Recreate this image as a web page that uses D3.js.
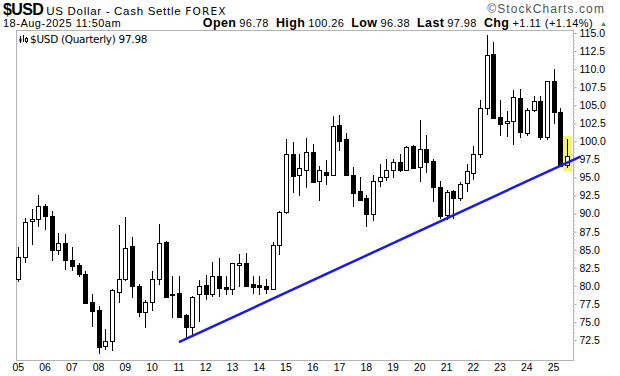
<!DOCTYPE html>
<html>
<head>
<meta charset="utf-8">
<script src="https://cdn.jsdelivr.net/npm/d3@7"></script>
<style>
    body { margin: 0; background: #fff; }
    svg { display: block; font-family: "Liberation Sans", Arial, sans-serif; }
</style>
</head>
<body>
<div id="chart"></div>
<script>
// Quarterly $USD candles, 2005 Q1 .. 2025 Q3
const yearLabels = ['05','06','07','08','09','10','11','12','13','14','15','16','17','18','19','20','21','22','23','24','25'];

const opens = [
    81.0, 84.0, 89.0, 89.3, 91.1, 89.7, 85.0, 85.9, 83.6, 82.9, 81.7, 77.7, 76.6, 71.7, 72.3, 79.1,
    81.0, 85.5, 80.0, 76.4, 77.8, 80.9, 86.0, 78.7, 79.0, 75.9, 74.3, 78.9, 80.1, 78.8, 81.4, 79.9,
    79.5, 82.9, 83.1, 80.2, 80.1, 80.0, 79.6, 85.7, 90.2, 98.2, 95.4, 96.1, 98.5, 94.5, 95.8, 95.4,
    102.3, 100.3, 95.4, 93.1, 92.2, 89.9, 94.5, 95.0, 96.0, 97.1, 96.1, 99.3, 96.4, 98.9, 97.3, 93.7,
    89.8, 93.1, 92.2, 94.2, 95.6, 98.2, 104.6, 112.1, 103.4, 102.5, 102.8, 106.0, 101.2, 104.3, 105.6, 100.6,
    108.3, 104.1, 96.78
];
const highs = [
    85.4, 89.4, 90.6, 92.6, 91.3, 90.3, 87.3, 87.2, 85.4, 83.2, 82.0, 78.9, 77.2, 74.0, 79.5, 88.4,
    89.5, 86.7, 80.2, 78.1, 82.0, 88.5, 86.2, 81.3, 81.3, 76.1, 78.6, 80.8, 81.5, 83.3, 83.9, 81.3,
    83.2, 84.4, 84.6, 81.3, 81.3, 80.9, 86.0, 90.3, 100.3, 99.9, 98.2, 100.4, 99.7, 96.6, 97.4, 103.5,
    103.6, 101.2, 96.4, 95.0, 92.6, 95.4, 96.9, 97.5, 97.5, 98.2, 99.3, 99.5, 102.9, 100.9, 97.5, 94.5,
    93.3, 93.3, 94.4, 96.8, 99.3, 105.7, 114.7, 113.7, 105.7, 104.2, 107.1, 107.2, 104.6, 106.3, 106.3, 108.4,
    110.0, 104.6, 100.26
];
const lows = [
    80.5, 83.1, 85.6, 88.1, 87.7, 83.5, 84.2, 82.2, 82.1, 81.2, 77.5, 74.3, 70.6, 71.1, 71.0, 77.6,
    80.7, 78.3, 75.7, 74.1, 76.5, 80.1, 78.4, 75.6, 75.5, 72.7, 73.0, 75.0, 78.0, 78.5, 78.5, 78.7,
    78.7, 79.9, 79.9, 78.8, 78.7, 78.8, 79.4, 84.3, 89.9, 92.9, 92.5, 93.6, 94.3, 91.8, 93.9, 95.2,
    98.7, 95.4, 90.9, 91.7, 88.1, 89.0, 93.7, 94.5, 94.9, 95.7, 96.0, 96.3, 94.4, 95.6, 91.6, 89.3,
    89.1, 89.3, 91.8, 93.0, 94.6, 97.7, 103.7, 103.3, 100.7, 100.6, 99.5, 100.4, 100.7, 104.0, 100.2, 100.2,
    102.4, 96.4, 96.38
];
const closes = [
    84.0, 88.8, 89.3, 91.1, 89.6, 85.0, 85.9, 83.6, 82.8, 81.7, 77.6, 76.5, 71.6, 72.3, 79.4, 81.0,
    85.3, 80.0, 76.4, 77.7, 80.9, 85.9, 78.5, 78.9, 75.7, 74.3, 78.5, 80.0, 78.8, 81.4, 79.7, 79.6,
    83.1, 83.2, 80.0, 79.9, 79.9, 79.6, 85.7, 90.2, 98.2, 95.2, 96.3, 98.5, 94.4, 96.0, 95.3, 102.1,
    100.1, 95.4, 92.9, 91.9, 89.9, 94.5, 95.0, 96.0, 97.1, 96.0, 99.2, 96.3, 98.9, 97.2, 93.7, 89.7,
    93.0, 92.2, 94.1, 95.9, 98.2, 104.6, 112.0, 103.3, 102.4, 102.8, 106.1, 101.3, 104.4, 105.6, 100.6, 108.3,
    104.0, 96.6, 97.98
];

const priceTicks = [72.5, 75, 77.5, 80, 82.5, 85, 87.5, 90, 92.5, 95, 97.5, 100, 102.5, 105, 107.5, 110, 112.5, 115];

// Hand-drawn support line (quarter index, price)
const trendIdx = [24, 84];
const trendVal = [72.2, 97.9];

const W = 620, H = 376;
const plot = { left: 16, top: 30, right: 573, bottom: 360 };

const svg = d3.select('#chart')
    .append('svg')
    .attr('width', W)
    .attr('height', H);

// Scales
const x = d3.scaleLinear()
    .domain([0, opens.length - 1])
    .range([18.3, 567]);

const y = d3.scaleLinear()
    .domain([72.5, 115])
    .range([340, 33]);

// Header
const head = svg.append('text')
    .attr('x', 3)
    .attr('y', 15);
head.append('tspan')
    .style('font-weight', 'bold')
    .style('font-size', '16px')
    .style('letter-spacing', '-0.6px')
    .text('$USD');
head.append('tspan')
    .attr('dx', 3)
    .style('font-size', '11.5px')
    .style('letter-spacing', '0.7px')
    .text('US Dollar - Cash Settle');
head.append('tspan')
    .attr('dx', 4)
    .style('font-size', '10.5px')
    .style('font-family', '"DejaVu Sans", sans-serif')
    .style('letter-spacing', '1.2px')
    .text('FOREX');

svg.append('text')
    .attr('x', 605)
    .attr('y', 13)
    .attr('text-anchor', 'end')
    .style('font-size', '12px')
    .style('letter-spacing', '1.1px')
    .style('fill', '#555')
    .text('©StockCharts.com');

svg.append('text')
    .attr('x', 3)
    .attr('y', 27)
    .style('font-size', '11px')
    .style('letter-spacing', '0.5px')
    .text('18-Aug-2025 11:50am');

const quote = [
    ['Open', '96.78'], ['High', '100.26'], ['Low', '96.38'], ['Last', '97.98'], ['Chg', '+1.11 (+1.14%)']
];
const qt = svg.append('text')
    .attr('x', 593)
    .attr('y', 27)
    .attr('text-anchor', 'end')
    .style('font-size', '11px')
    .style('letter-spacing', '0.4px');
quote.forEach((q, i) => {
    qt.append('tspan')
        .attr('dx', i ? 7 : 0)
        .style('font-weight', 'bold')
        .style('font-size', '12.5px')
        .text(q[0]);
    qt.append('tspan')
        .attr('dx', 3)
        .text(q[1]);
});
svg.append('text')
    .attr('x', 600)
    .attr('y', 26)
    .style('font-size', '7px')
    .style('fill', '#1a9a1a')
    .text('▲');

// Plot frame
svg.append('rect')
    .attr('x', plot.left + 0.5)
    .attr('y', plot.top + 0.5)
    .attr('width', plot.right - plot.left)
    .attr('height', plot.bottom - plot.top)
    .style('fill', 'none')
    .style('stroke', '#b4b4b4');

// Right axis
const yAxis = svg.append('g')
    .attr('transform', `translate(${plot.right + 0.5},0)`)
    .call(d3.axisRight(y)
        .tickValues(priceTicks)
        .tickSize(3)
        .tickPadding(3)
        .tickFormat(d3.format('.1f')));
yAxis.select('.domain').remove();
yAxis.selectAll('line').style('stroke', '#999');
yAxis.selectAll('text')
    .style('font-size', '10.5px')
    .style('font-family', '"Liberation Sans", Arial, sans-serif')
    .style('fill', '#000');

// minor ticks on the right edge
svg.append('g')
    .selectAll('line')
    .data(d3.range(72.5, 115.01, 0.5))
    .enter()
    .append('line')
    .attr('x1', plot.right)
    .attr('x2', plot.right + 2)
    .attr('y1', d => Math.round(y(d)) + 0.5)
    .attr('y2', d => Math.round(y(d)) + 0.5)
    .style('stroke', '#c8c8c8');

// Year labels under first quarter of each year
svg.append('g')
    .selectAll('text')
    .data(yearLabels)
    .enter()
    .append('text')
    .attr('x', (d, i) => x(i * 4))
    .attr('y', 371)
    .attr('text-anchor', 'middle')
    .style('font-size', '10.5px')
    .text(d => d);

// Legend line inside plot
const leg = svg.append('g');
leg.append('path')
    .attr('d', 'M20.5,36V43M23.5,35V42M26.5,37V43')
    .style('stroke', '#000');
leg.append('rect')
    .attr('x', 19.5).attr('y', 38.5).attr('width', 2).attr('height', 3)
    .style('fill', '#000');
leg.append('rect')
    .attr('x', 25.5).attr('y', 38.5).attr('width', 2).attr('height', 3)
    .style('fill', '#fff').style('stroke', '#000');
leg.append('text')
    .attr('x', 30)
    .attr('y', 43)
    .style('font-size', '10.5px')
    .style('font-family', '"DejaVu Sans", sans-serif')
    .style('letter-spacing', '-0.3px')
    .text(`$USD (Quarterly) ${closes[closes.length - 1].toFixed(2)}`);

// Highlight behind the current quarter
const last = opens.length - 1;
svg.append('rect')
    .attr('x', Math.round(x(last)) - 4)
    .attr('y', Math.round(y(highs[last])) - 3)
    .attr('width', 9)
    .attr('height', Math.round(y(lows[last])) - Math.round(y(highs[last])) + 6)
    .style('fill', '#f5f27a');

// Candles
const candles = svg.append('g')
    .selectAll('g')
    .data(opens.map((o, i) => ({ i, o, h: highs[i], l: lows[i], c: closes[i] })))
    .enter()
    .append('g')
    .style('shape-rendering', 'crispEdges');

candles.append('line')
    .attr('x1', d => Math.round(x(d.i)) + 0.5)
    .attr('x2', d => Math.round(x(d.i)) + 0.5)
    .attr('y1', d => Math.round(y(d.h)))
    .attr('y2', d => Math.round(y(d.l)))
    .style('stroke', '#000');

candles.append('rect')
    .attr('x', d => Math.round(x(d.i)) - 1.5)
    .attr('y', d => Math.round(y(Math.max(d.o, d.c))) + 0.5)
    .attr('width', 4)
    .attr('height', d => Math.max(1, Math.round(y(Math.min(d.o, d.c))) - Math.round(y(Math.max(d.o, d.c)))))
    .style('fill', d => d.c >= d.o ? '#fff' : '#000')
    .style('stroke', '#000');

// Trend line on top
svg.append('line')
    .attr('x1', x(trendIdx[0]))
    .attr('y1', y(trendVal[0]))
    .attr('x2', x(trendIdx[1]))
    .attr('y2', y(trendVal[1]))
    .style('stroke', '#1a1ae6')
    .style('stroke-width', 2.5);
</script>
</body>
</html>
